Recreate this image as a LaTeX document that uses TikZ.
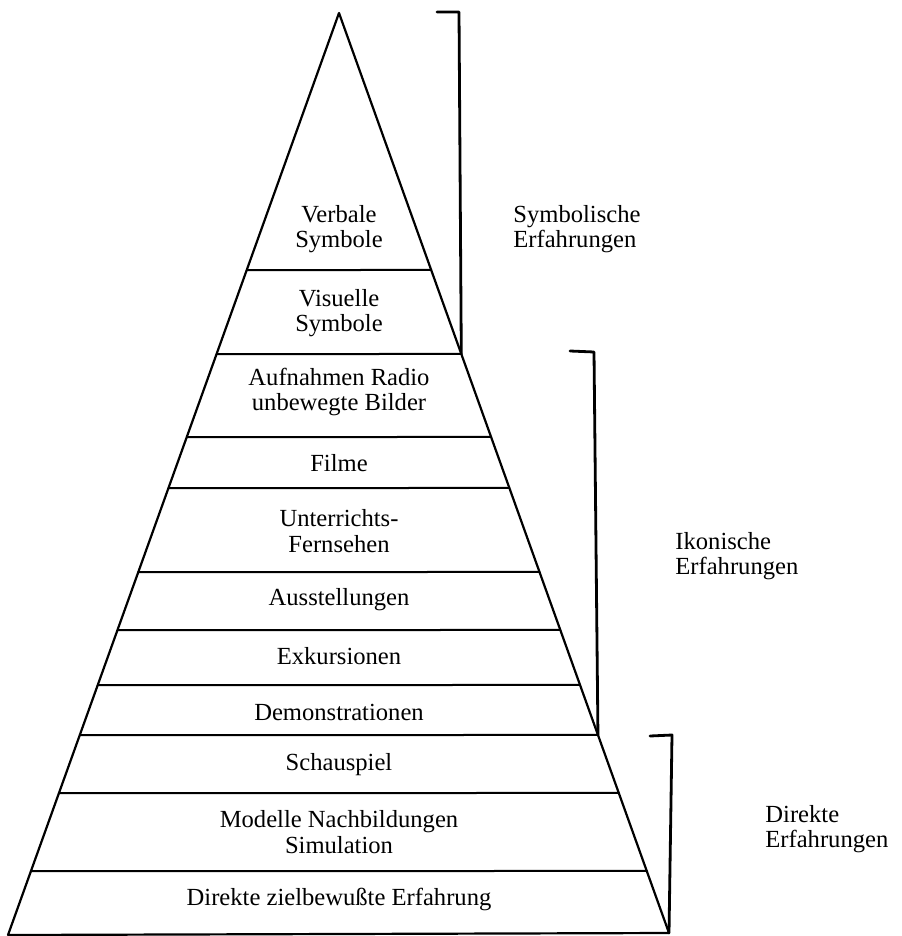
\documentclass[tikz,border=0pt]{standalone}
\usepackage{fontspec}
\setmainfont{Liberation Serif}
\usepackage{tikz}
\usetikzlibrary{arrows}

\tikzset{
  layer/.style={font=\fontsize{12.3}{12.6}\selectfont, align=center, inner sep=0pt},
  group/.style={font=\fontsize{12.3}{12.6}\selectfont, align=left, anchor=west, inner sep=0pt}
}

\begin{document}
\begin{tikzpicture}[line cap=round,line join=round,x=0.5pt,y=-0.5pt]
		\useasboundingbox (0.,0.) rectangle (901.,936.);
		% Kegel
		\coordinate (apex) at (339.,13.);
		\coordinate (bl) at (8.,935.);
		\coordinate (br) at (669.,933.);
		\draw [line width=1.1pt] (bl)-- (apex)-- (br)-- (bl);
		\foreach \y/\n in {270/a,354/b,437/c,488/d,572/e,630/f,685/g,735/h,793/i,871/j}
		{
			\coordinate (l\n) at (intersection of apex--bl and 0,\y--10,\y);
			\coordinate (r\n) at (intersection of apex--br and 0,\y--10,\y);
			\draw [line width=1.pt] (l\n)-- (r\n);
		}
		% Stufen
		\node[layer] (verbal) at (339.,229.5) {Verbale\\Symbole};
		\node[layer] (visuell) at (339.,313.) {Visuelle\\Symbole};
		\node[layer] (radio) at (339.,392.) {Aufnahmen Radio\\unbewegte Bilder};
		\node[layer] (filme) at (339.,463.) {Filme};
		\node[layer] (fernsehen) at (339.,531.) {Unterrichts-\\Fernsehen};
		\node[layer] (ausst) at (339.,600.) {Ausstellungen};
		\node[layer] (exk) at (339.,656.) {Exkursionen};
		\node[layer] (demo) at (339.,712.) {Demonstrationen};
		\node[layer] (schau) at (339.,765.) {Schauspiel};
		\node[layer] (modelle) at (339.,832.) {Modelle Nachbildungen\\Simulation};
		\node[layer] (direkt) at (339.,899.) {Direkte zielbewußte Erfahrung};
		% Klammern
		\coordinate (s1) at (437.,12.);
		\coordinate (s2) at (459.,12.);
		\coordinate (i1) at (570.,351.);
		\coordinate (i2) at (594.,352.);
		\coordinate (d1) at (650.,736.);
		\coordinate (d2) at (672.,735.);
		\draw [line width=1.4pt] (s1)-- (s2)-- (rb);
		\draw [line width=1.4pt] (i1)-- (i2)-- (rh);
		\draw [line width=1.4pt] (d1)-- (d2)-- (br);
		\node[group] (symb) at (513.,229.5) {Symbolische\\Erfahrungen};
		\node[group] (ikon) at (675.,556.) {Ikonische\\Erfahrungen};
		\node[group] (dir) at (765.,829.5) {Direkte\\Erfahrungen};
\end{tikzpicture}
\end{document}
